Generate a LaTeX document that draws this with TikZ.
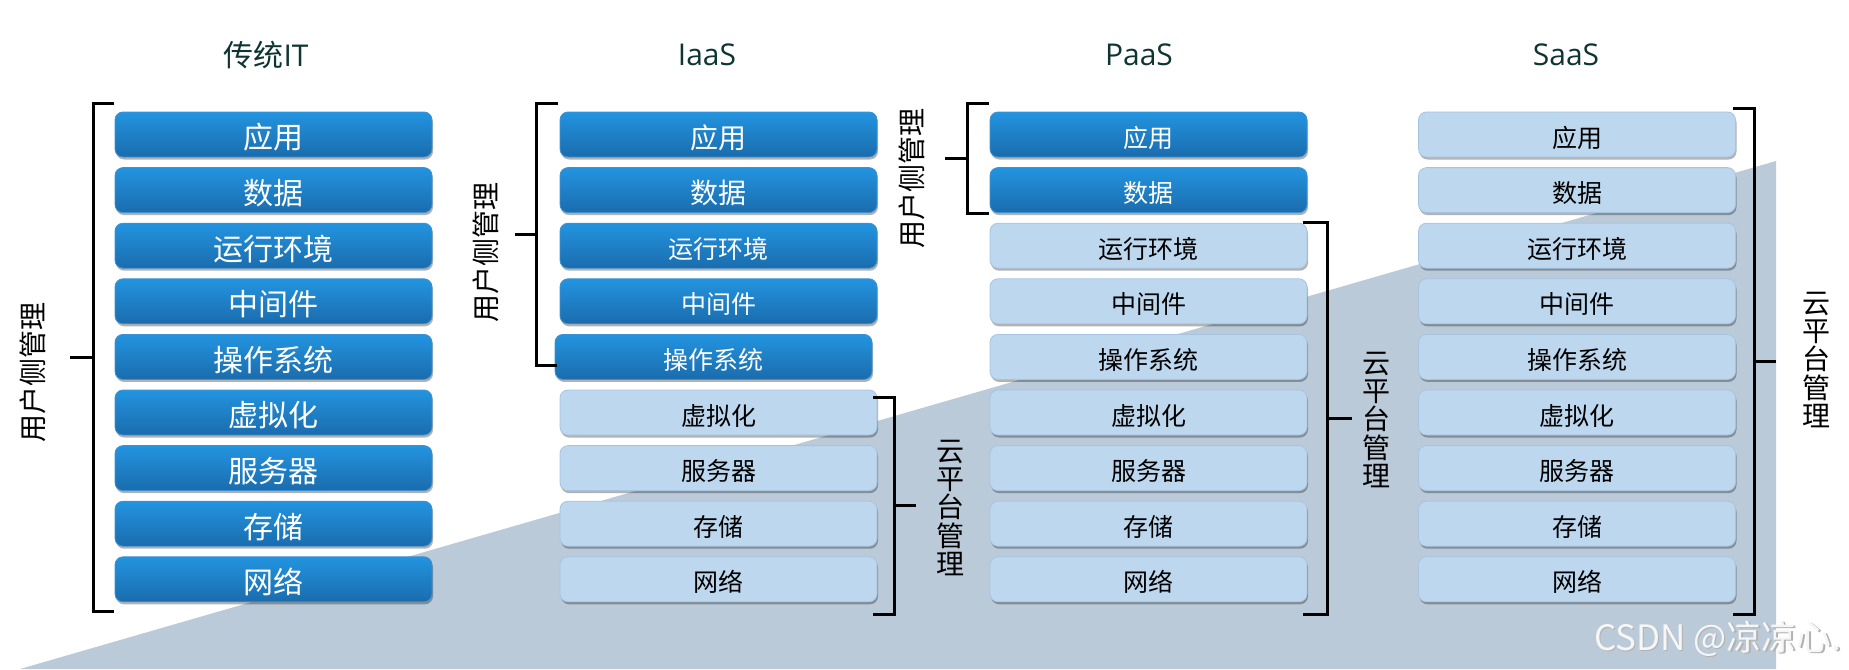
\documentclass[tikz,border=0pt]{standalone}
\usepackage{fontspec}
\newfontfamily\cjk{Noto Sans CJK SC}
\newfontfamily\titlefont{Open Sans}
\usetikzlibrary{shadows}
\definecolor{darkTop}{HTML}{2394E0}
\definecolor{darkBot}{HTML}{1A6CAD}
\definecolor{darkEdge}{HTML}{3F92D2}
\definecolor{lightFill}{HTML}{BDD7EE}
\definecolor{lightEdge}{HTML}{A6C4E2}
\definecolor{triFill}{HTML}{BBCAD8}
\definecolor{titleCol}{HTML}{0E3532}
\newcommand\lowr[1]{\raisebox{-3pt}[0.83em][0.07em]{#1}}
\tikzset{
  layerbox/.style={minimum width=317pt, minimum height=45pt, rounded corners=8pt, inner sep=0pt,
    drop shadow={shadow xshift=1pt, shadow yshift=-2.5pt, opacity=0.3, fill=black}},
  darkbox/.style={layerbox, draw=darkEdge, line width=0.8pt, top color=darkTop, bottom color=darkBot, text=white},
  lightbox/.style={layerbox, draw=lightEdge, line width=0.8pt, fill=lightFill, text=black},
  brk/.style={line width=3pt, black},
  titlenode/.style={text=titleCol, font={\titlefont\fontsize{30}{30}\selectfont}, inner sep=0pt},
  userlab/.style={rotate=90, font={\cjk\fontsize{28}{28}\selectfont}, inner sep=0pt},
  cloudlab/.style={align=center, font={\cjk\fontsize{28}{28.2}\selectfont}, inner sep=0pt},
  wmark/.style={anchor=base west, inner sep=0pt, font={\cjk\fontsize{35}{35}\selectfont}},
}
\begin{document}
\begin{tikzpicture}[x=1pt,y=-1pt]
\useasboundingbox (0,0) rectangle (1849,669);
% background wedge
\fill[triFill] (20,669) -- (1776,161) -- (1776,669) -- cycle;

% titles
\node[titlenode] (t1) at (266,55) {{\cjk 传统}IT};
\node[titlenode] (t2) at (707,55) {IaaS};
\node[titlenode] (t3) at (1139,55) {PaaS};
\node[titlenode] (t4) at (1566,55) {SaaS};

% column 1: traditional IT
\foreach \t [count=\i from 0] in {应用,数据,运行环境,中间件,操作系统,虚拟化,服务器,存储,网络} {
  \node[darkbox, font={\cjk\fontsize{30}{30}\selectfont}] (a\i) at (273.5,{134.5+55.6*\i}) {\lowr{\t}};
}
% column 2: IaaS
\foreach \t/\s/\f/\x [count=\i from 0] in {应用/darkbox/28/718.5,数据/darkbox/28/718.5,运行环境/darkbox/25/718.5,中间件/darkbox/25/718.5,操作系统/darkbox/25/713.5,虚拟化/lightbox/25/718.5,服务器/lightbox/25/718.5,存储/lightbox/25/718.5,网络/lightbox/25/718.5} {
  \node[\s, font={\cjk\fontsize{\f}{\f}\selectfont}] (b\i) at (\x,{134.5+55.6*\i}) {\lowr{\t}};
}
% column 3: PaaS
\foreach \t/\s [count=\i from 0] in {应用/darkbox,数据/darkbox,运行环境/lightbox,中间件/lightbox,操作系统/lightbox,虚拟化/lightbox,服务器/lightbox,存储/lightbox,网络/lightbox} {
  \node[\s, font={\cjk\fontsize{25}{25}\selectfont}] (c\i) at (1148.5,{134.5+55.6*\i}) {\lowr{\t}};
}
% column 4: SaaS
\foreach \t [count=\i from 0] in {应用,数据,运行环境,中间件,操作系统,虚拟化,服务器,存储,网络} {
  \node[lightbox, font={\cjk\fontsize{25}{25}\selectfont}] (d\i) at (1577,{134.5+55.6*\i}) {\lowr{\t}};
}

% brackets and labels
\draw[brk] (114,103) -- (93,103) -- (93,611) -- (114,611);
\draw[brk] (93,357) -- (70,357);
\node[userlab] (l1) at (33,372) {用户侧管理};

\draw[brk] (558,103) -- (536,103) -- (536,365) -- (557,365);
\draw[brk] (536,234) -- (515,234);
\node[userlab] (l2) at (486,252) {用户侧管理};

\draw[brk] (873,397) -- (894,397) -- (894,614) -- (873,614);
\draw[brk] (894,505) -- (916,505);
\node[cloudlab] (l3) at (950,508) {云\\平\\台\\管\\理};

\draw[brk] (989,103) -- (967,103) -- (967,213) -- (989,213);
\draw[brk] (967,158) -- (945,158);
\node[userlab] (l4) at (912,178) {用户侧管理};

\draw[brk] (1303,222) -- (1327,222) -- (1327,614) -- (1303,614);
\draw[brk] (1327,418) -- (1352,418);
\node[cloudlab] (l5) at (1376,420) {云\\平\\台\\管\\理};

\draw[brk] (1733,108) -- (1754,108) -- (1754,614) -- (1733,614);
\draw[brk] (1754,361) -- (1776,361);
\node[cloudlab] (l6) at (1816,360) {云\\平\\台\\管\\理};

% watermark
\node[wmark, text=gray!60] (wmshadow) at (1595.3,651.3) {CSDN @凉凉心.};
\node[wmark, text=white!93!gray] (wm) at (1594,650) {CSDN @凉凉心.};
\end{tikzpicture}
\end{document}
